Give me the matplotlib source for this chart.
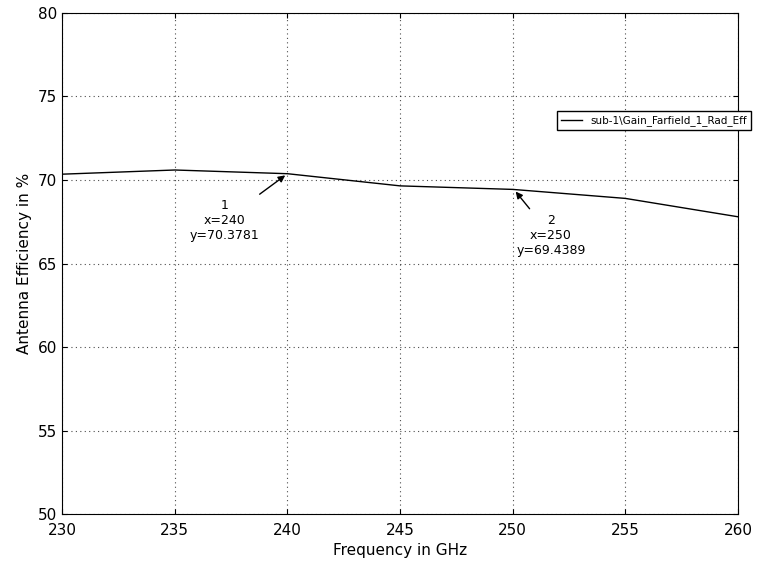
import matplotlib
matplotlib.use("Agg")
import matplotlib.pyplot as plt

freq = [230, 235, 240, 245, 250, 255, 260]
efficiency = [70.35, 70.6, 70.3781, 69.65, 69.4389, 68.9, 67.8]
series_label = "sub-1\\Gain_Farfield_1_Rad_Eff"

fig = plt.figure(figsize=(7.68, 5.62), dpi=100)
ax = fig.add_axes([0.081, 0.085, 0.88, 0.892])
line, = ax.plot(freq, efficiency, color="black", linewidth=1)

ax.set_xlim(230, 260)
ax.set_ylim(50, 80)
ax.set_xticks(range(230, 261, 5))
ax.set_yticks(range(50, 81, 5))
ax.tick_params(direction="in", top=True, right=True, labelsize=11)
ax.tick_params(axis="x", pad=6)
ax.grid(True, color="black", linestyle=(0, (1, 3)), linewidth=0.8, alpha=0.7)
ax.set_xlabel("Frequency in GHz", fontsize=11)
ax.set_ylabel("Antenna Efficiency in %", fontsize=11)

arrow = dict(arrowstyle="-|>", color="black", lw=1, mutation_scale=10)
ax.annotate("1\nx=240\ny=70.3781", xy=(240, 70.3781), xytext=(237.2, 67.6),
            ha="center", va="center", fontsize=9, arrowprops=arrow)
ax.annotate("2\nx=250\ny=69.4389", xy=(250.05, 69.4389), xytext=(251.7, 66.7),
            ha="center", va="center", fontsize=9, arrowprops=arrow)

fig.legend([line], [series_label], loc="center", bbox_to_anchor=(0.852, 0.785),
           fontsize=7.5, fancybox=False, edgecolor="black", framealpha=1,
           borderpad=0.4, handlelength=2)

fig.savefig("out.png", dpi=100)
